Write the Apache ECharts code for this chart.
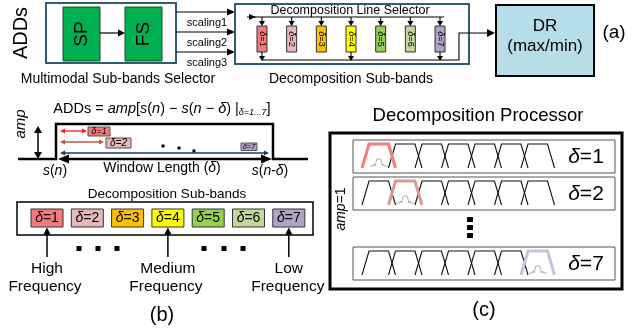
<!DOCTYPE html>
<html>
<head>
<meta charset="utf-8">
<script src="https://cdn.jsdelivr.net/npm/echarts@6/dist/echarts.min.js"></script>
<style>html,body{margin:0;padding:0;background:#fff}#c{width:634px;height:332px}</style>
</head>
<body>
<div id="c"></div>
<script>
// ---- content (text / categories) ----
const inputLabel = 'ADDs';
const selectorBlocks = ['SP', 'FS'];
const scalingLabels = ['scaling1', 'scaling2', 'scaling3'];
const bandLabels = ['δ=1', 'δ=2', 'δ=3', 'δ=4', 'δ=5', 'δ=6', 'δ=7'];
const outputBands = [0, 3, 6];               // bands feeding the output line
const freqBands = [0, 3, 6];                 // bands pointed at in (b)
const freqLabels = [['High', 'Frequency'], ['Medium', 'Frequency'], ['Low', 'Frequency']];
const windowBands = [0, 1, 6];               // windows drawn on the pulse in (b)
const processorRows = [0, 1, 6];             // rows of the decomposition processor (c)
const panelTitles = ['Multimodal Sub-bands Selector', 'Decomposition Line Selector', 'Decomposition Sub-bands', 'Decomposition Processor'];
const panelTags = ['(a)', '(b)', '(c)'];

// ---- styles ----
const bandColors = ['#f47a7c', '#e6b8b7', '#ffc000', '#ffff00', '#92d050', '#c4d79b', '#b3a2c7'];
const windowArrowColors = ['#ff1a1a', '#c0504d', '#1f3864'];
const highlightColors = ['#f47c7c', '#d99a97', '#ccc0da'];
const FONT = '"Liberation Sans", Arial, sans-serif';
const TEAL = '#2f5f6e';

const els = [];
function rich(size) {
  return {
    n: {fontSize: size, fontFamily: FONT, fill: '#000'},
    i: {fontSize: size, fontFamily: FONT, fontStyle: 'italic', fill: '#000'},
    s: {fontSize: Math.round(size * 0.62), fontFamily: FONT, fontStyle: 'italic', fill: '#000', verticalAlign: 'bottom'}
  };
}
function T(x, y, str, size, o) {
  o = o || {};
  els.push({type: 'text', x: x, y: y, rotation: o.rot || 0, z: 10,
    style: {text: str, rich: rich(size), fontSize: size, fontFamily: FONT, fill: '#000',
      align: o.align || 'center', verticalAlign: 'middle',
      textAlign: o.align || 'center', textVerticalAlign: 'middle'}});
}
function band(lbl) { return '{i|δ}{n|' + lbl.slice(1) + '}'; }
function R(x, y, w, h, fill, stroke, lw, z) {
  els.push({type: 'rect', z: z || 2, shape: {x: x, y: y, width: w, height: h},
    style: {fill: fill, stroke: stroke || null, lineWidth: lw || 0}});
}
function P(pts, stroke, lw, z) {
  els.push({type: 'polyline', z: z || 3, shape: {points: pts}, style: {stroke: stroke, lineWidth: lw, fill: null}});
}
function head(x, y, ang, len, wid, color) {
  const dx = Math.cos(ang), dy = Math.sin(ang);
  const bx = x - len * dx, by = y - len * dy;
  els.push({type: 'polygon', z: 4, shape: {points: [[x, y], [bx - wid / 2 * dy, by + wid / 2 * dx], [bx + wid / 2 * dy, by - wid / 2 * dx]]},
    style: {fill: color}});
}
function A(x1, y1, x2, y2, color, lw, len, wid, both) {
  const ang = Math.atan2(y2 - y1, x2 - x1);
  const c = Math.cos(ang), s = Math.sin(ang);
  const sx = both ? x1 + (len - 1) * c : x1, sy = both ? y1 + (len - 1) * s : y1;
  P([[sx, sy], [x2 - (len - 1) * c, y2 - (len - 1) * s]], color, lw);
  head(x2, y2, ang, len, wid, color);
  if (both) head(x1, y1, ang + Math.PI, len, wid, color);
}

// ================= (a) =================
T(21, 33, inputLabel, 20, {rot: Math.PI / 2});
R(46, 3, 130, 60, '#fff', TEAL, 2);
selectorBlocks.forEach((b, i) => {
  const x = 63 + i * 62;
  R(x, 7, 37, 54, '#00b050', '#1e4d2b', 1);
  T(x + 18.5, 34, b, 19, {rot: Math.PI / 2});
});
A(100, 33, 125, 33, '#000', 1.2, 7, 7);
T(118, 79, panelTitles[0], 14);

scalingLabels.forEach((l, i) => {
  const y = 12 + i * 20;
  A(176, y, 235, y, '#000', 1.2, 8, 7);
  T(207, y + 11, l, 11);
});
R(235, 4, 234, 60, '#fff', TEAL, 2);
T(350, 11, panelTitles[1], 12.5);
P([[247, 17], [444, 17]], '#000', 1.1);
head(256, 17, 0, 7, 6, '#000');
const bx0 = 262, bstep = 29.67;
bandLabels.forEach((l, i) => {
  const cx = bx0 + i * bstep;
  A(cx, 17, cx, 26, '#000', 1.1, 5, 6);
  R(cx - 5, 26, 10, 26, bandColors[i], '#333', 1);
  T(cx, 39, band(l), 9, {rot: -Math.PI / 2});
});
P([[bx0, 60], [459, 60], [459, 33], [488, 33]], '#000', 1.1);
head(495, 33, 0, 8, 8, '#000');
outputBands.forEach(i => {
  const cx = bx0 + i * bstep;
  A(cx, 52, cx, 61, '#000', 1.1, 5, 6);
});
T(351, 79, panelTitles[2], 14);
R(496, 5, 98, 71, '#b7dee8', '#000', 2);
T(545, 26, '{n|DR}', 17);
T(545, 46, '{n|(max/min)}', 17);
T(614, 33, panelTags[0], 19);

// ================= (b) =================
T(162, 109, '{n|ADDs = }{i|amp}{n|[}{i|s}{n|(}{i|n}{n|) − }{i|s}{n|(}{i|n}{n| − }{i|δ}{n|) |}{s|δ=1...7}{n|]}', 14.5);
P([[18, 159], [56, 159], [56, 124], [273, 124], [273, 159], [308, 159]], '#000', 2.5);
A(38, 126, 38, 159, '#000', 1.5, 7, 8, true);
T(21, 124, '{i|amp}', 15, {rot: Math.PI / 2});
// window arrows
const wEnds = [87, 104, 269];
const wY = [131, 142, 153];
windowBands.forEach((b, k) => {
  A(60, wY[k], wEnds[k], wY[k], windowArrowColors[k], 1.3, 5, 5, true);
});
R(88, 127, 22, 9, bandColors[0], '#555', 1);
T(99, 131.5, '{i|δ}{i|=1}', 9);
R(106, 138, 25, 10, bandColors[1], '#555', 1);
T(118.5, 143, '{i|δ}{i|=2}', 10);
R(241, 143, 16, 7.5, bandColors[6], '#555', 1);
T(249, 146.8, '{i|δ}{i|=7}', 7.5);
[[163, 146], [179, 148], [194, 151]].forEach(p => R(p[0] - 1.5, p[1] - 1.5, 3, 3, '#000'));
A(58, 159, 272, 159, '#000', 2.5, 11, 9, true);
T(162, 168, '{n|Window Length (}{i|δ}{n|)}', 14);
T(55, 171, '{i|s}{n|(}{i|n}{n|)}', 14);
T(270, 171, '{i|s}{n|(}{i|n}{n|-}{i|δ}{n|)}', 14);

T(167, 194, panelTitles[2], 13.5);
R(17, 202, 296, 33, '#fff', '#000', 1.5);
const sb0 = 31, sbStep = 40.3;
bandLabels.forEach((l, i) => {
  const x = sb0 + i * sbStep;
  R(x, 209, 32, 18, bandColors[i], '#333', 1);
  T(x + 16, 218.5, band(l), 14);
});
const freqShift = [-2, -2, -1];
freqBands.forEach((b, k) => {
  const cx = sb0 + b * sbStep + 16;
  A(cx, 257, cx, 227.5, '#000', 1.5, 7, 7);
  T(cx, 269, freqLabels[k][0], 15.5);
  T(cx + freqShift[k], 287, freqLabels[k][1], 15.5);
});
[79, 98, 117, 204, 224, 243].forEach(x => R(x - 2.5, 246, 5, 5, '#000'));
T(162, 315, panelTags[1], 20);

// ================= (c) =================
T(478, 116, panelTitles[3], 18.5);
R(330, 133, 292, 156, '#fff', '#000', 3, 1);
T(341, 209, '{i|amp}{n|=1}', 14, {rot: Math.PI / 2});
const rowTops = [140, 177, 247];
processorRows.forEach((hb, r) => {
  const top = rowTops[r];
  R(353, top, 262, 33, '#fff', '#555', 1, 2);
  const yt = top + 4, yb = top + 28;
  bandLabels.forEach((l, k) => {
    const b = 362 + 26.5 * k;
    const pts = [[b, yb], [b + 7, yt], [b + 26.5, yt], [b + 33.5, yb]];
    if (k === hb) {
      P(pts, highlightColors[r], 3, 5);
      P([[b + 8, yb - 2], [b + 11, yb - 2], [b + 12, yb - 4], [b + 13, yb - 2], [b + 14, yb - 6], [b + 15, yb - 9],
         [b + 18.5, yb - 9], [b + 19.5, yb - 6], [b + 20.5, yb - 2], [b + 21.5, yb - 4], [b + 22.5, yb - 2], [b + 26, yb - 2]], '#9a9a9a', 0.8, 6);
    } else {
      P(pts, '#111', 1.1, 4);
    }
  });
  T(586, top + 17, band(bandLabels[hb]), 21);
});
[217, 225, 233].forEach(y => R(467, y, 6, 5, '#000'));
T(484, 310, panelTags[2], 20);

const chart = echarts.init(document.getElementById('c'), null, {renderer: 'canvas'});
chart.setOption({backgroundColor: '#fff', animation: false, graphic: {elements: els}});
</script>
</body>
</html>
